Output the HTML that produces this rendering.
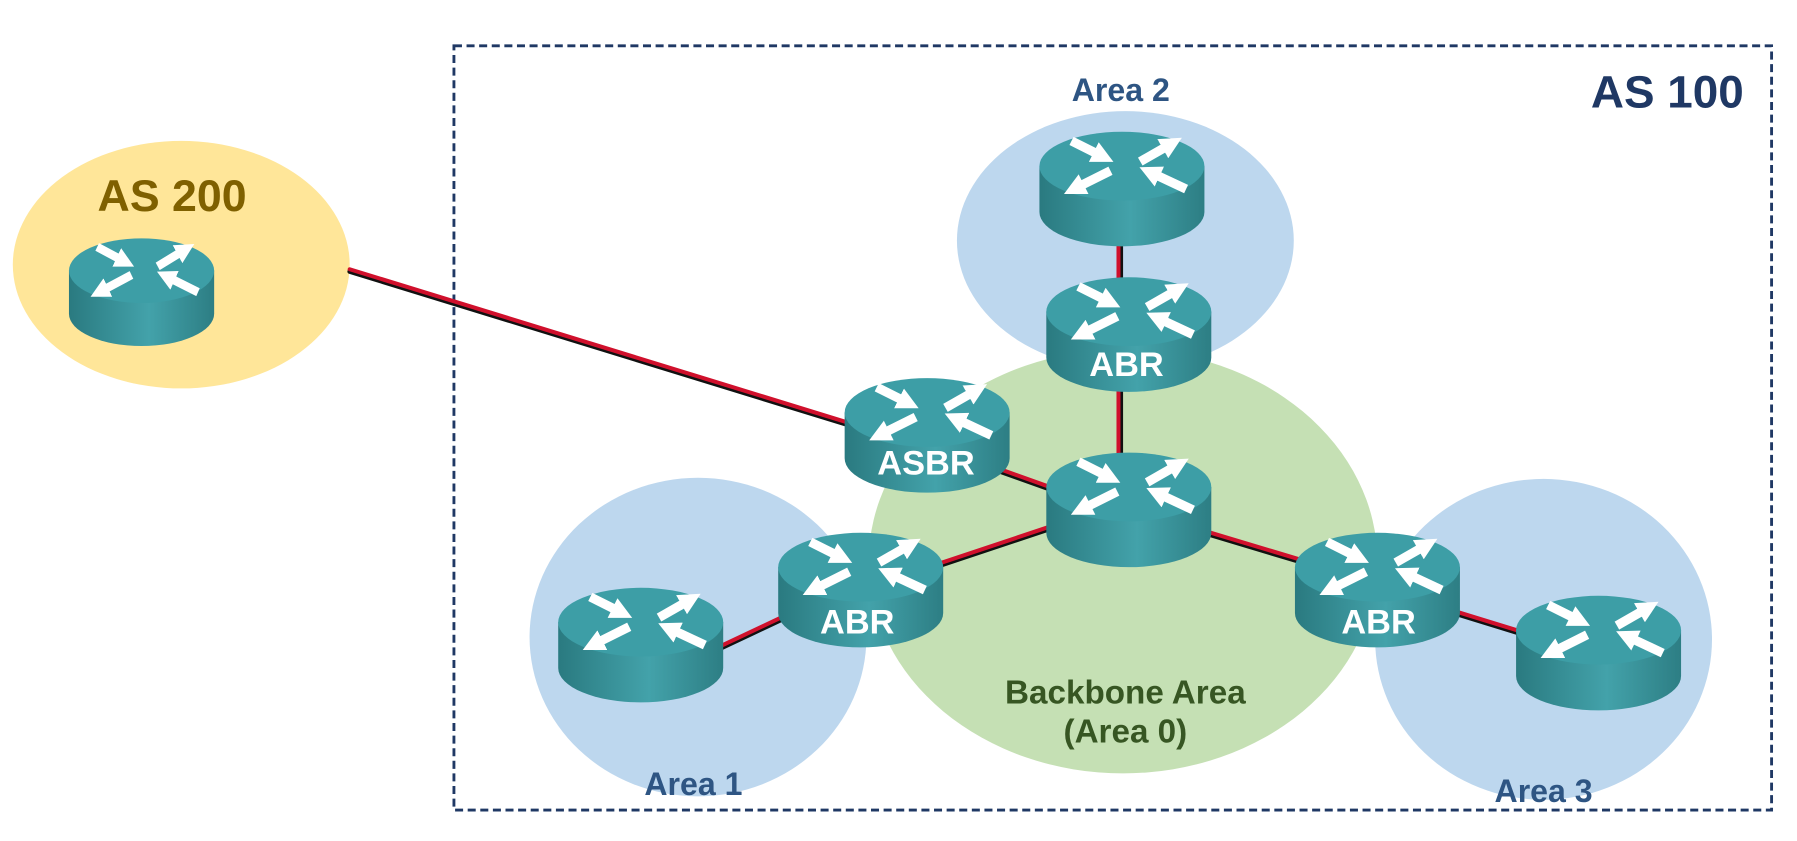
<!DOCTYPE html>
<html><head><meta charset="utf-8"><style>html,body{margin:0;padding:0;background:#fff;overflow:hidden}svg{display:block}</style></head>
<body>
<svg width="1797" height="841" viewBox="0 0 1568 734" xmlns="http://www.w3.org/2000/svg" font-family="'Liberation Sans', sans-serif">
<defs>
<linearGradient id="body" x1="0" x2="1" y1="0" y2="0">
<stop offset="0" stop-color="#2a7a80"/><stop offset="0.55" stop-color="#43a2aa"/><stop offset="1" stop-color="#2d7e84"/>
</linearGradient>
<marker id="ah" viewBox="0 0 10 10" refX="5" refY="5" markerWidth="2.4" markerHeight="2.4" orient="auto"><path d="M0,0 L10,5 L0,10 z" fill="#fff"/></marker>
<g id="rt">
<path d="M0,30 L0,70 A72,30 0 0 0 144,70 L144,30 Z" fill="url(#body)"/>
<ellipse cx="72" cy="30" rx="72" ry="30" fill="#3d9ea6"/>
<g stroke="#fff" stroke-width="8" marker-end="url(#ah)" fill="none">
<line x1="28" y1="8" x2="56" y2="22"/>
<line x1="88" y1="26" x2="116" y2="10"/>
<line x1="62" y1="34" x2="30" y2="50"/>
<line x1="128" y1="50" x2="96" y2="35"/>
</g>
</g>
</defs>
<rect x="396" y="40" width="1150" height="667" fill="none" stroke="#1f3864" stroke-width="2.5" stroke-dasharray="7,4"/>
<ellipse cx="158" cy="231" rx="147" ry="108" fill="#ffe699"/>
<ellipse cx="982" cy="210" rx="147" ry="113" fill="#bdd7ee"/>
<ellipse cx="609" cy="556" rx="147" ry="139" fill="#bdd7ee"/>
<ellipse cx="1347" cy="558" rx="147" ry="140" fill="#bdd7ee"/>
<ellipse cx="980" cy="490" rx="222" ry="185" fill="#c5e0b4"/>
<g stroke-linecap="round">
<g stroke="#111" stroke-width="4" transform="translate(0,2)">
<line x1="305" y1="235" x2="760" y2="375"/><line x1="860" y1="405" x2="930" y2="430"/>
<line x1="930" y1="455" x2="810" y2="495"/><line x1="1040" y1="460" x2="1140" y2="490"/>
<line x1="1265" y1="532" x2="1330" y2="552"/><line x1="690" y1="535" x2="620" y2="568"/>
<line x1="978" y1="200" x2="978" y2="420"/>
</g>
<g stroke="#d0102c" stroke-width="3.5">
<line x1="305" y1="235" x2="760" y2="375"/><line x1="860" y1="405" x2="930" y2="430"/>
<line x1="930" y1="455" x2="810" y2="495"/><line x1="1040" y1="460" x2="1140" y2="490"/>
<line x1="1265" y1="532" x2="1330" y2="552"/><line x1="690" y1="535" x2="620" y2="568"/>
<line x1="976" y1="200" x2="976" y2="420"/>
</g>
</g>
<use href="#rt" transform="translate(60,208) scale(0.88,0.94)"/>
<use href="#rt" x="907" y="115"/>
<use href="#rt" x="913" y="242"/>
<use href="#rt" x="737" y="330"/>
<use href="#rt" x="913" y="395"/>
<use href="#rt" x="679" y="465"/>
<use href="#rt" x="1130" y="465"/>
<use href="#rt" x="487" y="513"/>
<use href="#rt" x="1323" y="520"/>
<g fill="#fff" font-weight="bold" font-size="30" text-anchor="middle">
<text x="983" y="328">ABR</text><text x="808" y="414">ASBR</text>
<text x="748" y="553">ABR</text><text x="1203" y="553">ABR</text>
</g>
<g font-weight="bold" text-anchor="middle">
<text x="978" y="88" font-size="28" fill="#2e5583">Area 2</text>
<text x="605" y="694" font-size="28" fill="#2e5583">Area 1</text>
<text x="1347" y="700" font-size="28" fill="#2e5583">Area 3</text>
<text x="1455" y="94" font-size="40" fill="#1f3864">AS 100</text>
<text x="150" y="184" font-size="39" fill="#7f6000">AS 200</text>
<text x="982" y="614" font-size="29" fill="#375623">Backbone Area</text>
<text x="982" y="648" font-size="29" fill="#375623">(Area 0)</text>
</g>
</svg>
</body></html>
